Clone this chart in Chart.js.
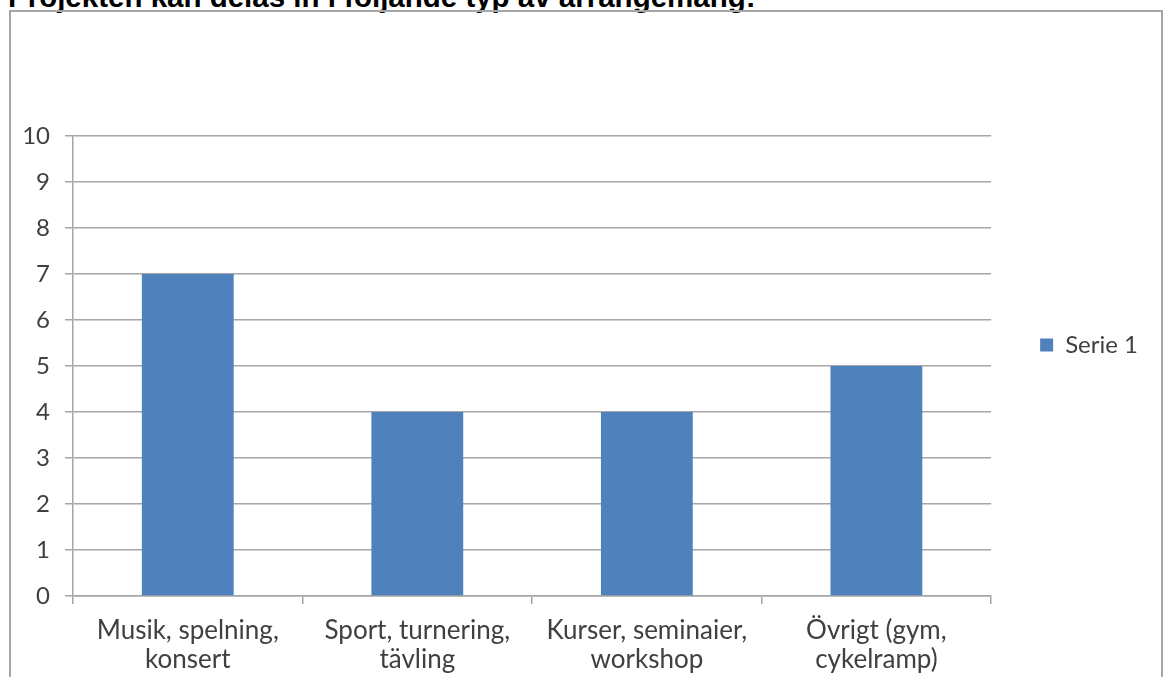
<!DOCTYPE html>
<html>
<head>
<meta charset="utf-8">
<style>
  html, body { margin: 0; padding: 0; background: #fff; overflow: hidden; }
  #title {
    position: absolute; left: 8px; top: -18px;
    font: bold 29.5px "Liberation Sans", Arial, sans-serif; line-height: 1;
    color: #000; white-space: nowrap;
  }
  #frame {
    position: absolute; left: 9px; top: 10px; width: 1150px; height: 700px;
    border: 2px solid #a6a6a6;
  }
  #wrap { position: absolute; left: 0; top: 0; width: 1166px; height: 677px; }
</style>
</head>
<body>
<div id="title">Projekten kan delas in i följande typ av arrangemang:</div>
<div id="frame"></div>
<div id="wrap"><canvas id="chart"></canvas></div>
<script src="https://cdn.jsdelivr.net/npm/chart.js@4.4.1/dist/chart.umd.min.js"></script>
<script>
const categories = [
    ['Musik, spelning,', 'konsert'],
    ['Sport, turnering,', 'tävling'],
    ['Kurser, seminaier,', 'workshop'],
    ['Övrigt (gym,', 'cykelramp)'],
];
const serie1 = [7, 4, 4, 5];
const yMin = 0;
const yMax = 10;
const yStep = 1;

const textColor = '#404040';
const lineColor = '#a6a6a6';

// nudges the right-hand legend up so it sits level with the Excel original
const legendShift = {
    id: 'legendShift',
    afterLayout(chart) {
        const l = chart.legend;
        if (l) {
            l.top -= 21;
            l.bottom -= 21;
        }
    },
};

new Chart(document.getElementById('chart'), {
    type: 'bar',
    data: {
        labels: categories,
        datasets: [
            {
                label: 'Serie 1',
                data: serie1,
                backgroundColor: '#4f81bd',
                borderWidth: 0,
                barPercentage: 0.4,
                categoryPercentage: 1,
            },
        ],
    },
    options: {
        responsive: true,
        maintainAspectRatio: false,
        animation: false,
        layout: { padding: { top: 136, right: 18, bottom: 0, left: 0 } },
        plugins: {
            legend: {
                position: 'right',
                fullSize: false,
                labels: {
                    boxWidth: 13,
                    boxHeight: 13,
                    padding: 49,
                    color: textColor,
                    font: { family: 'Lato', size: 24 },
                },
            },
            tooltip: { enabled: false },
        },
        scales: {
            x: {
                afterFit: (scale) => { scale.height = 81; },
                grid: {
                    drawOnChartArea: false,
                    drawTicks: true,
                    tickLength: 8,
                    tickColor: lineColor,
                    lineWidth: 1.5,
                },
                border: { color: lineColor, width: 1.5 },
                ticks: {
                    color: textColor,
                    padding: 12,
                    maxRotation: 0,
                    autoSkip: false,
                    font: { family: 'Lato', size: 26, lineHeight: 1.12 },
                },
            },
            y: {
                min: yMin,
                max: yMax,
                afterFit: (scale) => { scale.width = 73; },
                grid: {
                    color: lineColor,
                    lineWidth: 1.5,
                    tickLength: 8,
                },
                border: { color: lineColor, width: 1.5 },
                ticks: {
                    stepSize: yStep,
                    color: textColor,
                    padding: 15,
                    font: { family: 'Lato', size: 24 },
                },
            },
        },
    },
    plugins: [legendShift],
});
</script>
</body>
</html>
